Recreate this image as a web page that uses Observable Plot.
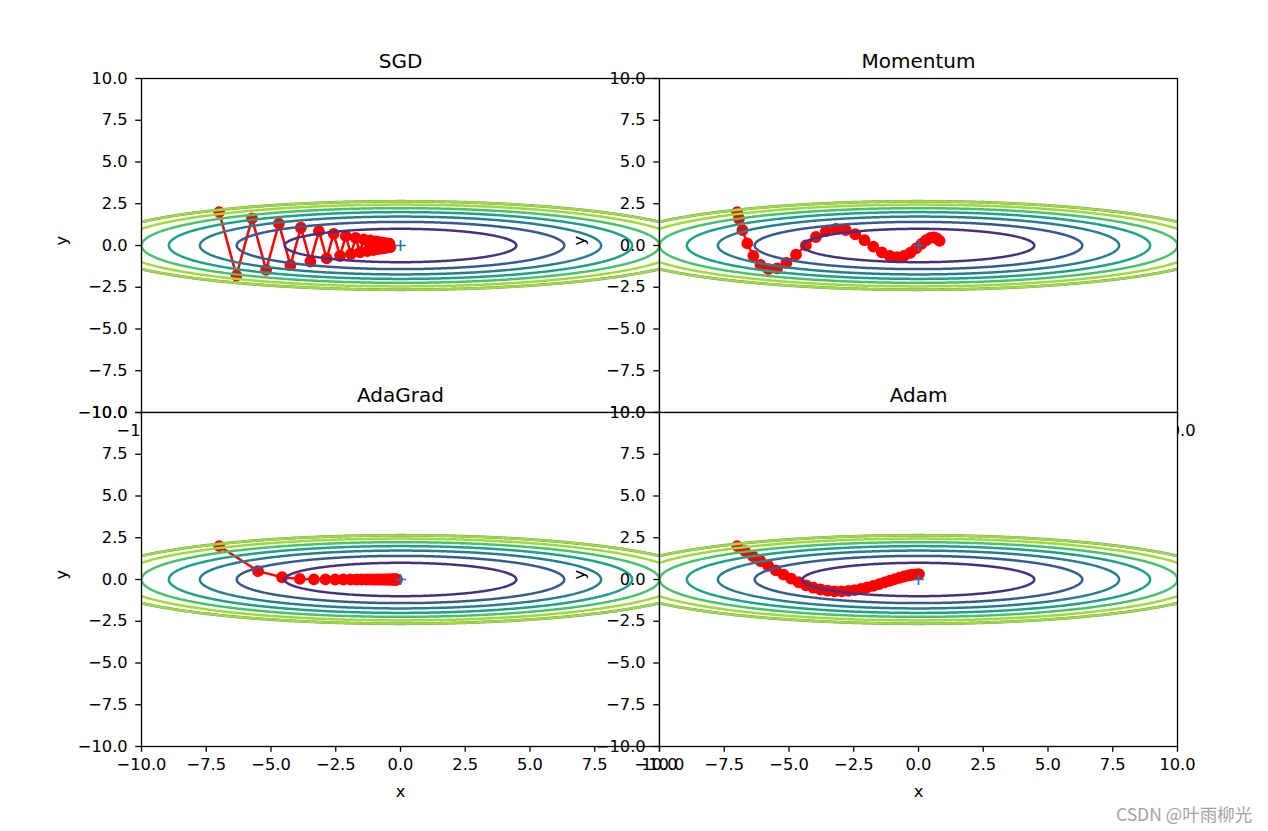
<!DOCTYPE html>
<html>
<head>
<meta charset="utf-8">
<script src="https://cdn.jsdelivr.net/npm/d3@7"></script>
<script src="https://cdn.jsdelivr.net/npm/@observablehq/plot@0.6"></script>
<style>
  html, body { margin: 0; padding: 0; background: #fff; }
  #fig { position: relative; width: 1268px; height: 831px; overflow: hidden; font-family: "DejaVu Sans", sans-serif; }
  .panel { position: absolute; }
  #wm { position: absolute; left: 1116px; top: 801px; font-family: "Noto Sans CJK SC", "Noto Sans", sans-serif; font-size: 17.5px; color: #a3a3a3; white-space: nowrap; }
</style>
</head>
<body>
<div id="fig"><div id="wm">CSDN @叶雨柳光</div></div>
<script>
// ---- data ----
const titles = ["SGD", "Momentum", "AdaGrad", "Adam"];

const sgdX = [-7, -6.335, -5.733, -5.189, -4.696, -4.250, -3.846, -3.480, -3.150, -2.851, -2.580, -2.335, -2.113, -1.912, -1.731, -1.566, -1.417, -1.283, -1.161, -1.051, -0.951, -0.860, -0.779, -0.705, -0.638, -0.577, -0.522, -0.473, -0.428, -0.387];
const sgdY = [2, -1.8, 1.62, -1.458, 1.312, -1.181, 1.063, -0.957, 0.861, -0.775, 0.697, -0.628, 0.565, -0.508, 0.458, -0.412, 0.371, -0.334, 0.300, -0.270, 0.243, -0.219, 0.197, -0.177, 0.160, -0.144, 0.129, -0.116, 0.105, -0.094];

const momentumX = [-7, -6.93, -6.798, -6.611, -6.376, -6.101, -5.793, -5.458, -5.101, -4.729, -4.348, -3.960, -3.572, -3.187, -2.809, -2.440, -2.084, -1.743, -1.418, -1.112, -0.825, -0.558, -0.313, -0.089, 0.113, 0.295, 0.455, 0.594, 0.714, 0.814];
const momentumY = [2, 1.6, 0.92, 0.124, -0.617, -1.161, -1.418, -1.366, -1.046, -0.548, 0.009, 0.509, 0.857, 0.998, 0.927, 0.676, 0.316, -0.071, -0.406, -0.626, -0.699, -0.624, -0.433, -0.174, 0.094, 0.316, 0.453, 0.486, 0.418, 0.273];

const adagradX = [-7, -5.5, -4.573, -3.888, -3.345, -2.899, -2.524, -2.206, -1.932, -1.695, -1.489, -1.310, -1.153, -1.015, -0.895, -0.788, -0.695, -0.613, -0.540, -0.477, -0.420, -0.371, -0.327, -0.289, -0.255, -0.225, -0.198, -0.175, -0.154, -0.136];
const adagradY = [2, 0.5, 0.136, 0.037, 0.010, 0.003, 0.001, 0.0002, 0.0001, 0, 0, 0, 0, 0, 0, 0, 0, 0, 0, 0, 0, 0, 0, 0, 0, 0, 0, 0, 0, 0];

const adamX = [-7, -6.7, -6.400, -6.102, -5.804, -5.507, -5.213, -4.920, -4.630, -4.343, -4.059, -3.780, -3.504, -3.234, -2.969, -2.710, -2.457, -2.211, -1.973, -1.743, -1.521, -1.309, -1.106, -0.913, -0.730, -0.557, -0.396, -0.246, -0.107, 0.020];
const adamY = [2, 1.7, 1.402, 1.109, 0.823, 0.548, 0.288, 0.049, -0.164, -0.346, -0.492, -0.600, -0.671, -0.706, -0.708, -0.682, -0.631, -0.561, -0.476, -0.380, -0.279, -0.176, -0.075, 0.021, 0.106, 0.180, 0.239, 0.283, 0.310, 0.322];

const minimumX = [0];
const minimumY = [0];

const contourLevels = [1, 2, 3, 4, 5, 6];
const levelMax = 7;           // values above 7 were masked in the source -> cliff line at f = 7
const axisTicks = [-10, -7.5, -5, -2.5, 0, 2.5, 5, 7.5, 10];

// ---- layout (pixels) ----
const axW = 518, axH = 334;
const mL = 85, mR = 45, mT = 50, mB = 70;
const panelPos = [[141, 78], [659, 78], [141, 412], [659, 412]];

const paths = [
  [sgdX, sgdY],
  [momentumX, momentumY],
  [adagradX, adagradY],
  [adamX, adamY]
];

const f = (x, y) => x * x / 20 + y * y;
const fmt = d3.format(".1f");
const fig = document.getElementById("fig");
const wm = document.getElementById("wm");
const lastColor = d3.interpolateViridis(contourLevels[contourLevels.length - 1] / levelMax);

function contourMark(level, stroke, strokeWidth) {
  return Plot.contour({
    x1: -10.6, x2: 10.6, y1: -10.6, y2: 10.6,
    value: f,
    thresholds: [level],
    pixelSize: 1,
    clip: "frame",
    fill: "none",
    stroke,
    strokeWidth
  });
}

titles.forEach((title, i) => {
  const [px, py] = paths[i];
  const pts = px.map((x, j) => ({x, y: py[j]}));
  const origin = minimumX.map((x, j) => ({x, y: minimumY[j]}));

  const contourMarks = [
    contourMark(levelMax, "#6f8fa0", 2.9),
    contourMark(levelMax, lastColor, 2.3),
    ...contourLevels.map(L => contourMark(L, d3.interpolateViridis(L / levelMax), 2.5))
  ];

  const chart = Plot.plot({
    width: mL + axW + mR,
    height: mT + axH + mB,
    marginLeft: mL, marginRight: mR, marginTop: mT, marginBottom: mB,
    x: {domain: [-10, 10]},
    y: {domain: [-10, 10]},
    style: {fontFamily: "DejaVu Sans", fontSize: "16.3px", color: "black", background: "transparent", overflow: "visible"},
    marks: [
      Plot.frame({fill: "white", stroke: "none"}),
      Plot.line(pts, {x: "x", y: "y", stroke: "red", strokeWidth: 2.5}),
      Plot.dot(pts, {x: "x", y: "y", r: 5.1, fill: "red", stroke: "red", strokeWidth: 1.6}),
      ...contourMarks,
      Plot.dot(origin, {x: "x", y: "y", symbol: "plus", r: 3.6, stroke: "#1f77b4", strokeWidth: 1.7}),
      Plot.frame({stroke: "black", strokeWidth: 1.3}),
      Plot.axisX({ticks: axisTicks, tickFormat: fmt, tickSize: 5.8, tickPadding: 6.5, strokeWidth: 1.3, fontSize: 16.3, label: null}),
      Plot.axisY({ticks: axisTicks, tickFormat: fmt, tickSize: 5.8, tickPadding: 8, strokeWidth: 1.3, fontSize: 16.3, label: null}),
      Plot.text([title], {text: d => d, frameAnchor: "top", dy: -17, fontSize: 20, lineAnchor: "middle"}),
      Plot.text(["x"], {text: d => d, frameAnchor: "bottom", dy: 45, fontSize: 16.3, lineAnchor: "middle"}),
      Plot.text(["y"], {text: d => d, frameAnchor: "left", dx: -80, rotate: -90, fontSize: 16.3, lineAnchor: "middle"})
    ]
  });
  chart.classList.add("panel");
  chart.style.left = (panelPos[i][0] - mL) + "px";
  chart.style.top = (panelPos[i][1] - mT) + "px";
  fig.insertBefore(chart, wm);
});
</script>
</body>
</html>
